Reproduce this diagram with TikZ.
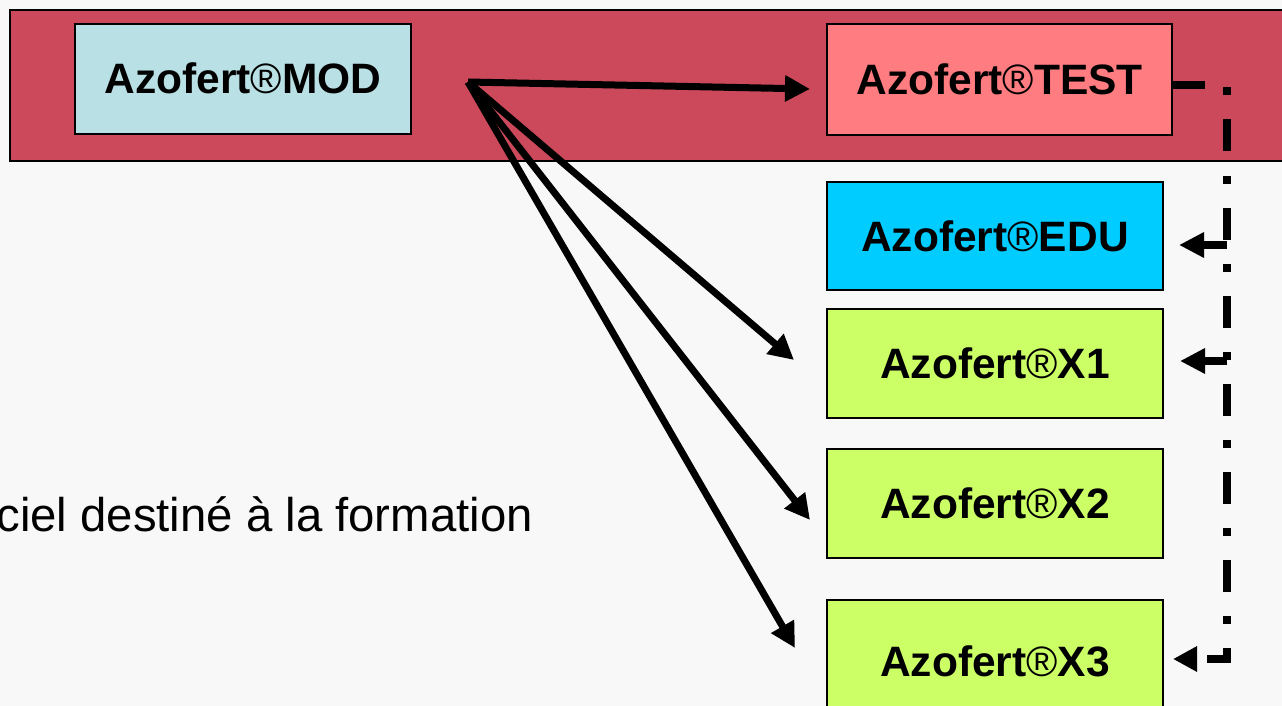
\documentclass[tikz,border=0pt]{standalone}
\usepackage{fontspec}
\setmainfont{Liberation Sans}
\usetikzlibrary{arrows.meta}
\definecolor{bgc}{HTML}{F8F8F8}
\definecolor{banner}{HTML}{CB495B}
\definecolor{modc}{HTML}{B9E0E4}
\definecolor{testc}{HTML}{FF7C80}
\definecolor{educ}{HTML}{00CCFF}
\definecolor{xc}{HTML}{CCFF66}
\tikzset{
  boxnode/.style={draw=black, line width=2pt, inner sep=0pt, text height=30pt, text depth=0pt,
    font=\fontsize{42.5}{50}\selectfont\bfseries, align=center},
  arr/.style={line width=7pt, -{Triangle[length=25pt,width=25pt]}},
  dd/.style={line width=8pt, line cap=butt, dash pattern=on 32pt off 24pt on 8pt off 24pt, -{Triangle[length=24pt,width=24pt]}},
  shortarr/.style={line width=7.5pt, -{Triangle[length=25pt,width=24pt]}}
}
\newcommand{\regmark}{{\mdseries\char"00AE}}
\begin{document}
\begin{tikzpicture}[x=1pt,y=-1pt]
\useasboundingbox (0,0) rectangle (1282,706);
\fill[bgc] (0,0) rectangle (1282,706);
\draw[fill=banner, line width=2pt] (10,10) rectangle (1290,161);
\node[boxnode, fill=modc, minimum width=336pt, minimum height=110pt] (MOD) at (243,79) {Azofert\regmark MOD};
\node[boxnode, fill=testc, minimum width=345pt, minimum height=111pt] (TEST) at (999.5,79.5) {Azofert\regmark TEST};
\node[boxnode, fill=educ, minimum width=336pt, minimum height=108pt] (EDU) at (995,236) {Azofert\regmark EDU};
\node[boxnode, fill=xc, minimum width=336pt, minimum height=109pt] (X1) at (995,363.5) {Azofert\regmark X1};
\node[boxnode, fill=xc, minimum width=336pt, minimum height=109pt] (X2) at (995,503.5) {Azofert\regmark X2};
\node[boxnode, fill=xc, minimum width=336pt, minimum height=122pt] (X3) at (995,661) {Azofert\regmark X3};
\node[anchor=base east, inner sep=0pt, font=\fontsize{47.3}{56}\selectfont] (txt) at (533,531) {ciel destiné à la formation};
% solid arrows from MOD
\coordinate (src) at (468,82);
\coordinate (tTEST) at (810,89);
\coordinate (tX1) at (794,360);
\coordinate (tX2) at (810,520);
\coordinate (tX3a) at (795,648);
\draw[arr] (src) -- (tTEST);
\draw[arr] (src) -- (tX1);
\draw[arr] (src) -- (tX2);
\draw[arr] (src) -- (tX3a);
% dash-dot connector from TEST
\coordinate (c1) at (1227,85.5);
\coordinate (c2) at (1227,659);
\coordinate (tX3) at (1173,659);
\draw[dd] ([yshift=-6pt]TEST.east) -- (c1) -- (c2) -- (tX3);
\coordinate (e1) at (1227,245);
\coordinate (tEDU) at (1179,245);
\coordinate (x1s) at (1227,361);
\coordinate (tX1b) at (1180,361);
\draw[shortarr] (e1) -- (tEDU);
\draw[shortarr] (x1s) -- (tX1b);
\end{tikzpicture}
\end{document}
